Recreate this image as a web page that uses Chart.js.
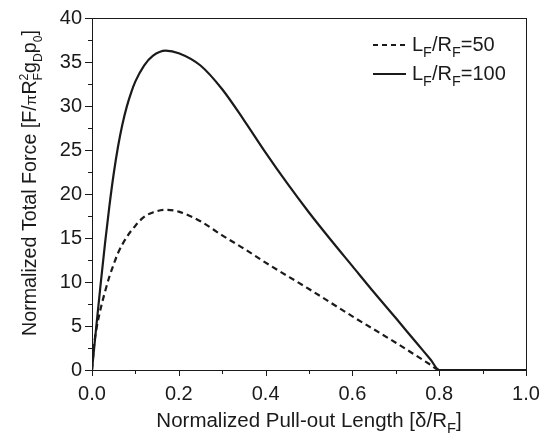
<!DOCTYPE html>
<html>
<head>
<meta charset="utf-8">
<script src="https://cdn.jsdelivr.net/npm/chart.js@4.4.1/dist/chart.umd.min.js"></script>
<style>
  html, body { margin: 0; padding: 0; background: #fff; }
  #wrap { width: 540px; height: 434px; position: relative; }
</style>
</head>
<body>
<div id="wrap"><canvas id="forceChart" width="540" height="434"></canvas></div>
<script>
// Values
const xRatio50 = [0, 0.005, 0.01, 0.02, 0.03, 0.04, 0.05, 0.06, 0.08, 0.1, 0.12, 0.14, 0.17, 0.2, 0.25, 0.3, 0.35, 0.4, 0.5, 0.6, 0.7, 0.78, 0.8, 0.9, 1.0];
const force50 = [0, 2.9, 4.6, 7.0, 8.9, 10.6, 12.0, 13.3, 15.1, 16.4, 17.4, 17.9, 18.2, 18.0, 16.9, 15.3, 13.8, 12.2, 9.2, 6.1, 3.1, 0.6, 0, 0, 0];

const xRatio100 = [0, 0.005, 0.01, 0.02, 0.03, 0.04, 0.05, 0.06, 0.07, 0.08, 0.09, 0.1, 0.12, 0.14, 0.17, 0.2, 0.25, 0.3, 0.35, 0.4, 0.45, 0.5, 0.55, 0.6, 0.65, 0.7, 0.75, 0.78, 0.8, 0.9, 1.0];
const force100 = [0, 2.5, 5.0, 9.8, 14.4, 18.6, 22.3, 25.4, 27.9, 29.9, 31.5, 32.8, 34.6, 35.7, 36.3, 36.0, 34.6, 31.9, 28.4, 24.7, 21.2, 17.9, 14.8, 11.8, 8.8, 5.9, 2.95, 1.2, 0, 0, 0];

const yTicks = [0, 5, 10, 15, 20, 25, 30, 35, 40];
const xTicks = [0.0, 0.2, 0.4, 0.6, 0.8, 1.0];

const FONT = '"Liberation Sans", Arial, Helvetica, sans-serif';
const INK = '#1a1a1a';

function toPoints(xs, ys) {
    return xs.map((x, i) => ({ x: x, y: ys[i] }));
}

// draw text made of pieces, some of them sub/superscript
function richWidth(ctx, parts, size) {
    let w = 0;
    let last = 0;
    parts.forEach(p => {
        const s = size * (p.scale || 1);
        ctx.font = s + 'px ' + FONT;
        const pw = ctx.measureText(p.t).width;
        if (!p.stack) { w += pw; last = pw; }
        else if (pw > last) { w += pw - last; }
    });
    return w;
}
function drawRich(ctx, parts, x, y, size) {
    let cx = x;
    let lastAdvance = 0;
    parts.forEach(p => {
        const s = size * (p.scale || 1);
        ctx.font = s + 'px ' + FONT;
        const pw = ctx.measureText(p.t).width;
        const startX = p.stack ? cx - lastAdvance : cx;
        ctx.fillText(p.t, startX, y + (p.dy || 0) * size);
        if (!p.stack) {
            cx += pw;
            lastAdvance = pw;
        } else if (pw > lastAdvance) {
            cx += pw - lastAdvance;
        }
    });
}

const yTitle = [
    { t: 'Normalized Total Force [F/' },
    { t: 'π', scale: 0.78 },
    { t: 'R' },
    { t: '2', scale: 0.62, dy: -0.42 },
    { t: 'F', scale: 0.62, dy: 0.28, stack: true },
    { t: 'g' },
    { t: 'D', scale: 0.62, dy: 0.28 },
    { t: 'p' },
    { t: '0', scale: 0.62, dy: 0.28 },
    { t: ']' }
];
const xTitle = [
    { t: 'Normalized Pull-out Length [δ/R' },
    { t: 'F', scale: 0.72, dy: 0.3 },
    { t: ']' }
];
const legendItems = [
    { dash: [5, 4], parts: [{ t: 'L' }, { t: 'F', scale: 0.72, dy: 0.3 }, { t: '/R' }, { t: 'F', scale: 0.72, dy: 0.3 }, { t: '=50' }] },
    { dash: [], parts: [{ t: 'L' }, { t: 'F', scale: 0.72, dy: 0.3 }, { t: '/R' }, { t: 'F', scale: 0.72, dy: 0.3 }, { t: '=100' }] }
];

// frame, minor ticks, titles and legend
const decorPlugin = {
    id: 'decor',
    afterDraw(chart) {
        const ctx = chart.ctx;
        const area = chart.chartArea;
        const xs = chart.scales.x;
        const ys = chart.scales.y;
        ctx.save();
        ctx.strokeStyle = INK;
        ctx.lineWidth = 1;
        ctx.strokeRect(area.left + 0.5, area.top + 0.5, area.right - area.left, area.bottom - area.top);

        // y ticks (major every 5, minor every 2.5)
        for (let v = 0; v <= 40; v += 2.5) {
            const py = Math.round(ys.getPixelForValue(v)) + 0.5;
            const len = v % 5 === 0 ? 7 : 4;
            ctx.beginPath();
            ctx.moveTo(area.left - len, py);
            ctx.lineTo(area.left, py);
            ctx.stroke();
        }
        // x ticks (every 0.1)
        for (let i = 0; i <= 10; i++) {
            const px = Math.round(xs.getPixelForValue(i / 10)) + 0.5;
            const len = i % 2 === 0 ? 6 : 4;
            ctx.beginPath();
            ctx.moveTo(px, area.bottom);
            ctx.lineTo(px, area.bottom + len);
            ctx.stroke();
        }

        ctx.fillStyle = INK;
        ctx.textBaseline = 'alphabetic';
        ctx.textAlign = 'left';

        // x title
        const xw = richWidth(ctx, xTitle, 20.5);
        drawRich(ctx, xTitle, (area.left + area.right) / 2 - xw / 2, 427, 20.5);

        // y title
        ctx.save();
        ctx.translate(36, 183);
        ctx.rotate(-Math.PI / 2);
        const yw = richWidth(ctx, yTitle, 19.7);
        drawRich(ctx, yTitle, -yw / 2, 0, 19.7);
        ctx.restore();

        // legend
        legendItems.forEach((item, i) => {
            const ly = 45 + i * 29;
            ctx.save();
            ctx.lineWidth = 2.2;
            ctx.setLineDash(item.dash);
            ctx.beginPath();
            ctx.moveTo(373, ly);
            ctx.lineTo(406, ly);
            ctx.stroke();
            ctx.restore();
            drawRich(ctx, item.parts, 412, ly + 6, 20);
        });
        ctx.restore();
    }
};

const ctx = document.getElementById('forceChart').getContext('2d');
new Chart(ctx, {
    type: 'line',
    data: {
        datasets: [
            {
                label: 'LF/RF=50',
                data: toPoints(xRatio50, force50),
                borderColor: INK,
                borderWidth: 2.2,
                borderDash: [6, 4],
                pointRadius: 0,
                cubicInterpolationMode: 'monotone',
                fill: false
            },
            {
                label: 'LF/RF=100',
                data: toPoints(xRatio100, force100),
                borderColor: INK,
                borderWidth: 2.2,
                pointRadius: 0,
                cubicInterpolationMode: 'monotone',
                fill: false
            }
        ]
    },
    options: {
        responsive: false,
        animation: false,
        layout: { padding: { left: 0, right: 14, top: 18, bottom: 0 } },
        plugins: {
            legend: { display: false },
            tooltip: { enabled: false }
        },
        scales: {
            x: {
                type: 'linear',
                min: 0,
                max: 1,
                afterBuildTicks: scale => { scale.ticks = xTicks.map(v => ({ value: v })); },
                afterFit: scale => {
                    scale.height = 64;
                    scale.paddingLeft = 0;
                    scale.paddingRight = 0;
                },
                grid: { display: false, drawTicks: false },
                border: { display: true, color: INK, width: 1 },
                ticks: {
                    autoSkip: false,
                    maxRotation: 0,
                    padding: 12,
                    color: INK,
                    font: { family: FONT, size: 20 },
                    callback: v => v.toFixed(1)
                }
            },
            y: {
                min: 0,
                max: 40,
                afterBuildTicks: scale => { scale.ticks = yTicks.map(v => ({ value: v })); },
                afterFit: scale => {
                    scale.width = 92;
                    scale.paddingTop = 0;
                    scale.paddingBottom = 0;
                },
                grid: { display: false, drawTicks: false },
                border: { display: true, color: INK, width: 1 },
                ticks: {
                    autoSkip: false,
                    padding: 10,
                    color: INK,
                    font: { family: FONT, size: 20 },
                    callback: v => String(v)
                }
            }
        }
    },
    plugins: [decorPlugin]
});
</script>
</body>
</html>
